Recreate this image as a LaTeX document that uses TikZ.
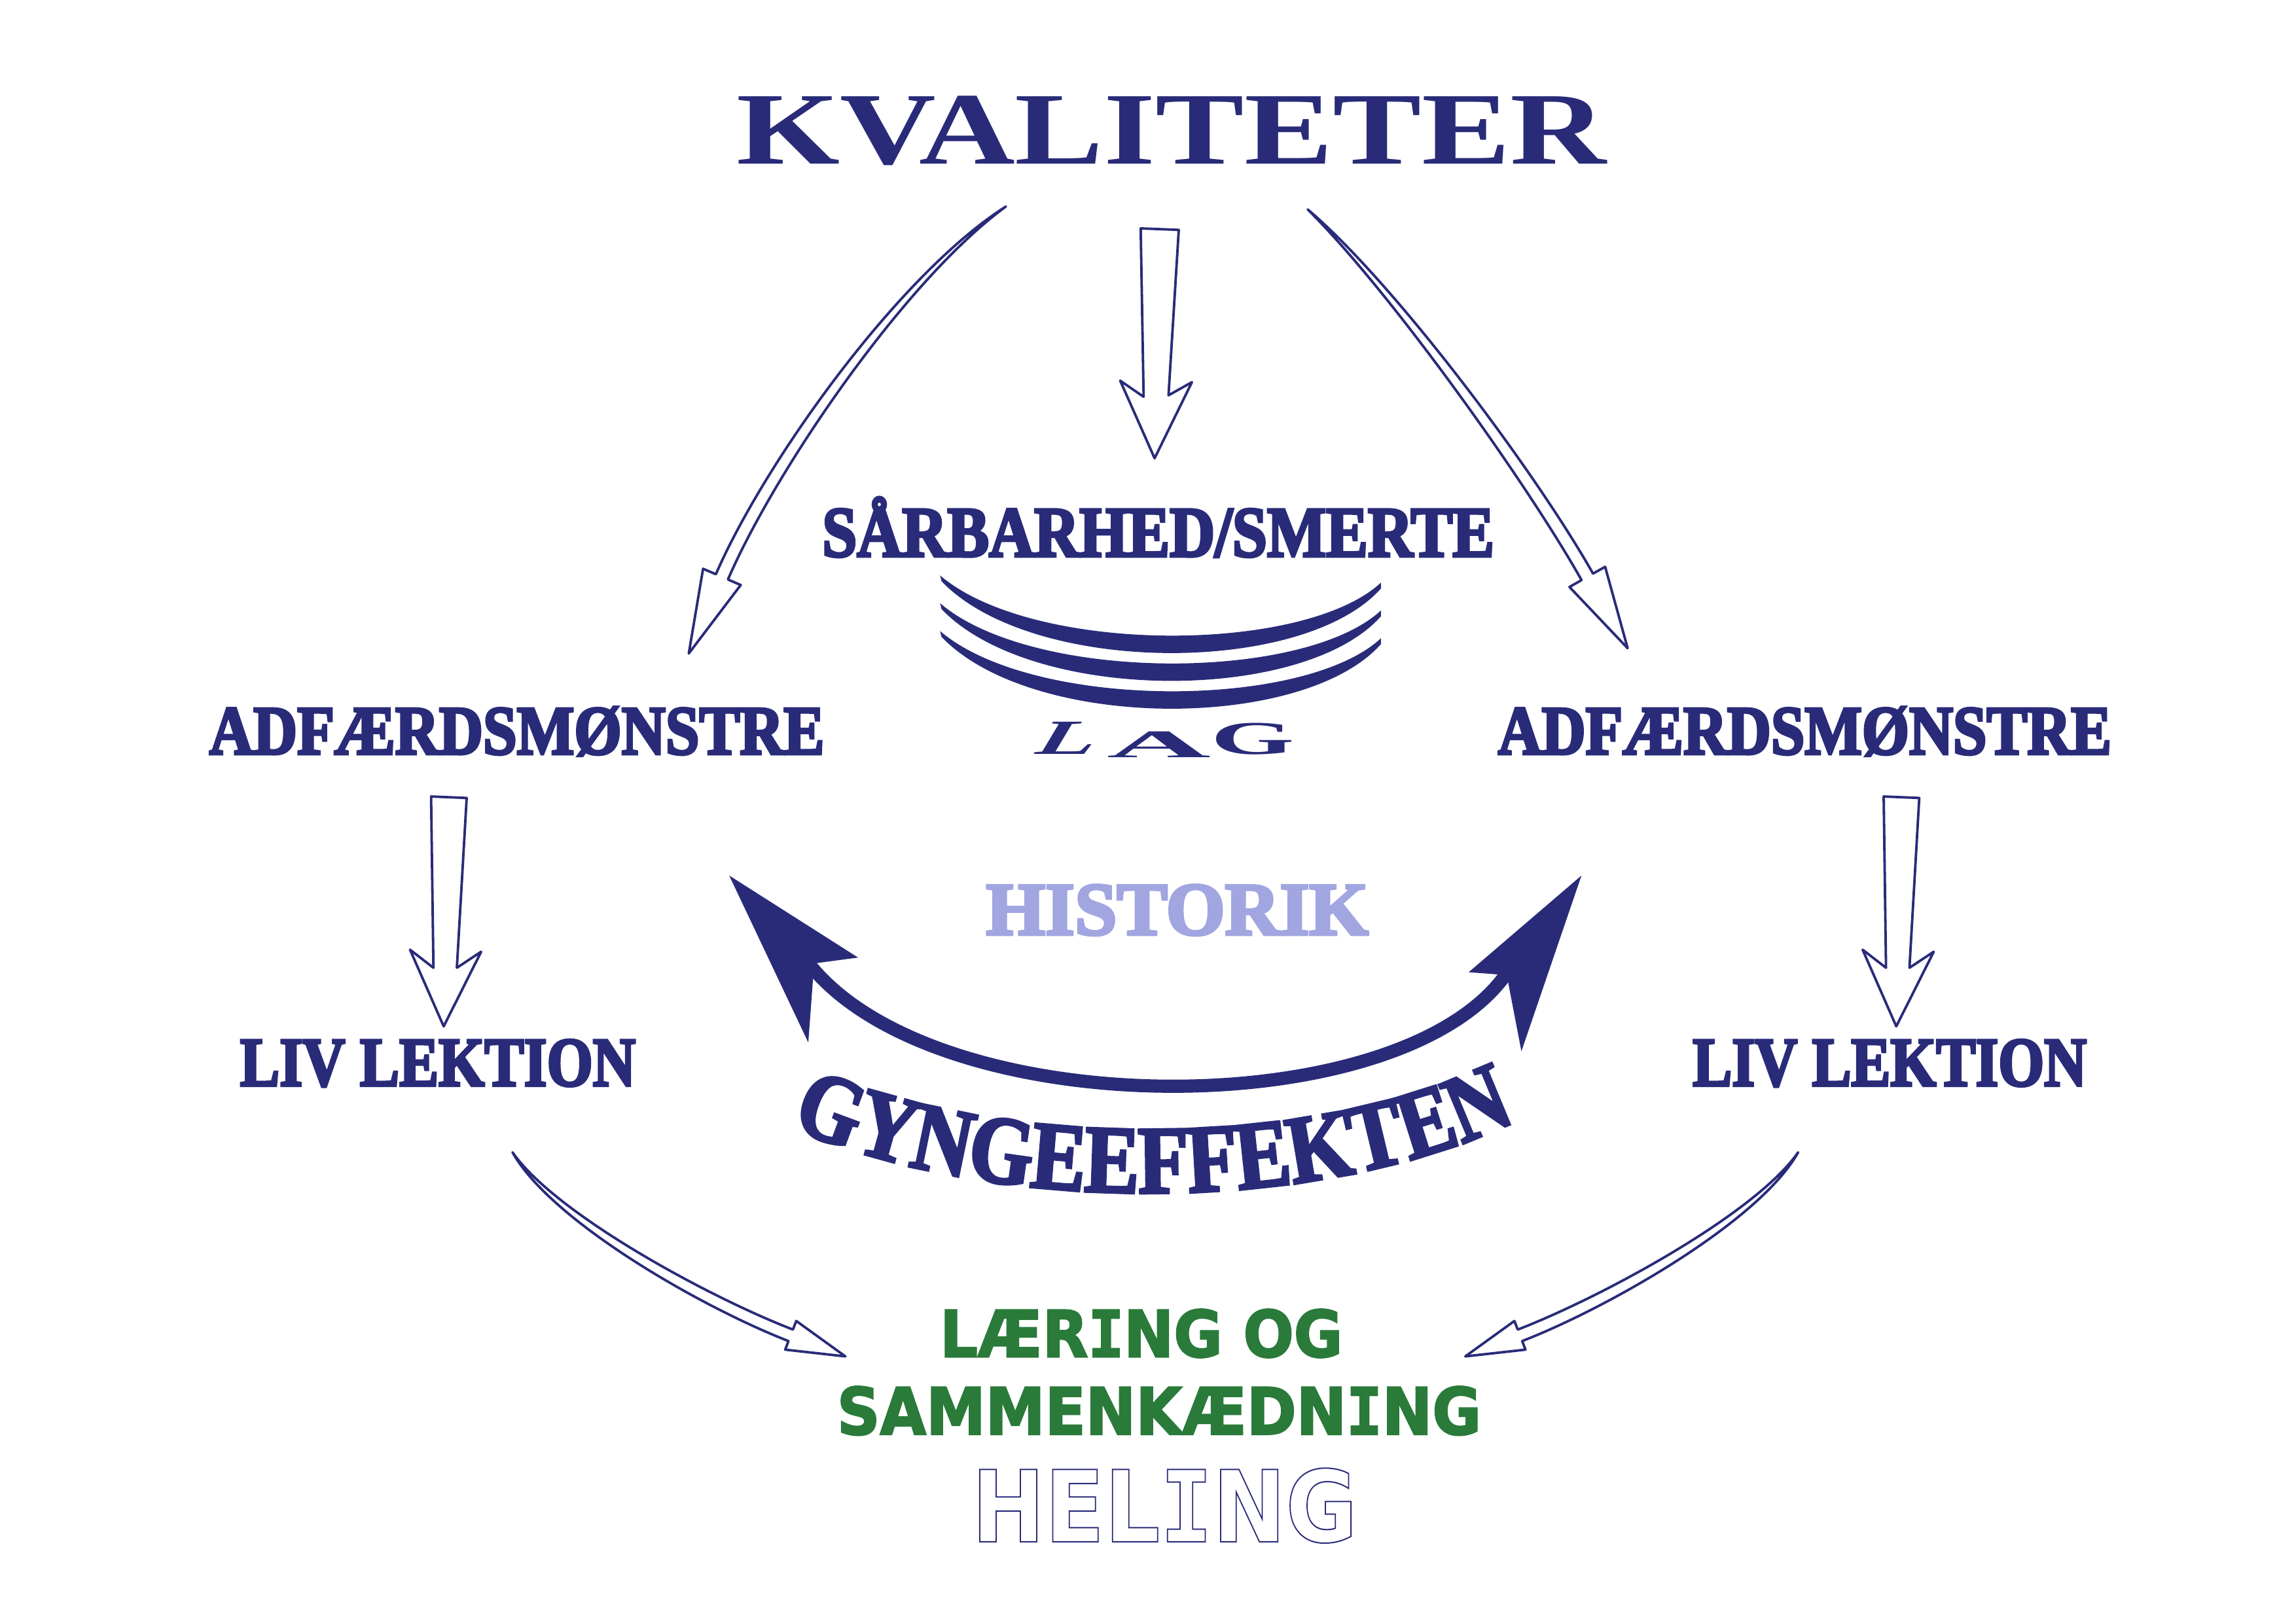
\documentclass[tikz,border=0pt]{standalone}
\usepackage{fontspec}
\usepackage{graphicx}
\usetikzlibrary{calc,decorations.text}
\newfontfamily\serifr{Liberation Serif}
\newfontfamily\serifh{Liberation Serif}[BoldFeatures={FakeBold=4}]
\newfontfamily\gyng{Liberation Serif}[FakeStretch=0.85, BoldFeatures={FakeBold=3}]
\newfontfamily\sansb{DejaVu Sans}
\newfontfamily\sansh{DejaVu Sans}[BoldFeatures={FakeBold=2.5}]
\newfontfamily\monob{DejaVu Sans Mono}
\newfontfamily\monoh{DejaVu Sans Mono}[BoldFeatures={FakeBold=2.5}]
\newcommand\gI{{\monoh\bfseries I}}
\newcommand\hI{{\monob\bfseries I}}
\definecolor{navy}{RGB}{41,43,121}
\definecolor{grn}{RGB}{42,122,58}
\definecolor{lav}{RGB}{161,165,224}
\newcommand\fitbox[3]{\resizebox{#1pt}{#2pt}{\vphantom{X}\smash{#3}}}
\tikzset{
  hollow/.style={draw=navy, line width=1.7pt, fill=white, line join=round},
  txt/.style={inner sep=0pt, outer sep=0pt, anchor=base, text=navy},
  sbold/.style={font=\serifh\bfseries\fontsize{#1}{#1}\selectfont},
  gbold/.style={font=\sansh\bfseries\fontsize{#1}{#1}\selectfont},
  lagfont/.style={inner sep=0pt, anchor=base west, text=navy, font=\serifr\bfseries\fontsize{30}{30}\selectfont},
}
% curved tapered hollow arrow: P0 tail, P1,P2 controls, P3 head base, w1, w2, head half width, head length
\newcommand\hollowcurve[8]{%
  \coordinate (a0) at (#1); \coordinate (a1) at (#2);
  \coordinate (a2) at (#3); \coordinate (a3) at (#4);
  \coordinate (c1l) at ($(a1)!#5pt!90:(a2)$);
  \coordinate (c1r) at ($(a1)!#5pt!-90:(a2)$);
  \coordinate (c2l) at ($(a2)!#6pt!-90:(a1)$);
  \coordinate (c2r) at ($(a2)!#6pt!90:(a1)$);
  \coordinate (bl) at ($(a3)!#6pt!-90:(a2)$);
  \coordinate (br) at ($(a3)!#6pt!90:(a2)$);
  \coordinate (hl) at ($(a3)!#7pt!-90:(a2)$);
  \coordinate (hr) at ($(a3)!#7pt!90:(a2)$);
  \coordinate (tp) at ($(a3)!-#8pt!(a2)$);
  \draw[hollow] (a0) .. controls (c1l) and (c2l) .. (bl) -- (hl) -- (tp) -- (hr) -- (br) .. controls (c2r) and (c1r) .. (a0) -- cycle;
}
\begin{document}
\begin{tikzpicture}[x=1pt,y=-1pt]
\useasboundingbox[fill=white] (0,0) rectangle (1568,1108.5);

% ---- HELING (outline) first, before any emboldened font
\node[txt, font=\sansb\bfseries\fontsize{68}{68}\selectfont] (heling) at (795.3,1053)
  {\special{pdf:literal direct 1 Tr 0.9 w}\fitbox{263.4}{49.4}{HEL\hI{}NG}\special{pdf:literal direct 0 Tr}};

% ---- texts
\node[txt, font=\serifr\bfseries\fontsize{70}{70}\selectfont] (kval) at (800,112) {\fitbox{594}{46}{KVALITETER}};
\node[txt, sbold=48] (saar) at (791,380) {\fitbox{459}{32}{SÅRBARHED/SMERTE}};
\node[txt, sbold=47] (adfl) at (353,515) {\fitbox{420}{31}{ADFÆRDSMØNSTRE}};
\node[txt, sbold=47] (adfr) at (1232.5,515) {\fitbox{419}{31}{ADFÆRDSMØNSTRE}};
\node[txt, sbold=47] (livl) at (299,741.5) {\fitbox{270}{31}{LIV LEKTION}};
\node[txt, sbold=47] (livr) at (1290.5,741.5) {\fitbox{269}{31}{LIV LEKTION}};
\node[txt, sbold=50, text=lav] (hist) at (804,638.3) {\fitbox{261}{33.5}{HISTORIK}};
\node[txt, gbold=44, text=grn] (laer) at (779.4,926.7) {\fitbox{275}{32}{LÆR\gI{}NG OG}};
\node[txt, gbold=44, text=grn] (samm) at (791.6,979.7) {\fitbox{440}{32.3}{SAMMENKÆDN\gI{}NG}};

% ---- LAG
\node[lagfont, xslant=0.6] (lagL) at (705,515) {\fitbox{39}{22}{L}};
\node[lagfont] (lagA) at (756,517.3) {\fitbox{71}{17.5}{A}};
\node[lagfont] (lagG) at (827,515) {\fitbox{57}{21}{G}};

% ---- layered arcs
\foreach \dy in {0,19,38}{
  \fill[navy, shift={(0,\dy)}] (642,393) .. controls (705,447) and (890,447) .. (943,398)
     -- (943,402) .. controls (890,461.5) and (705,461.5) .. (643,397) -- cycle;
}

% ---- curved hollow arrows
\hollowcurve{687,141}{615,190}{525,320}{493,394}{3}{4.5}{14}{57}
\hollowcurve{893,143}{950,195}{1045,325}{1084,394}{3}{4.5}{14}{56}
\hollowcurve{350,787}{378,832}{483,890}{540,912}{3}{4.2}{10.5}{40}
\hollowcurve{1228,787}{1200,832}{1095,890}{1038,912}{3}{4.2}{10.5}{40}

% ---- straight hollow arrows
\draw[hollow] (779,156) -- (805,157) -- (798,270) -- (814,261) -- (788.5,313) -- (765,260) -- (781,271) -- cycle;
\draw[hollow] (294.4,544) -- (318.7,545) -- (312,661) -- (328.6,650) -- (303,701) -- (280,648.6) -- (296,661) -- cycle;
\draw[hollow] (1286.4,544) -- (1310.7,545) -- (1304,661) -- (1320.6,650) -- (1295,701) -- (1272,648.6) -- (1288,661) -- cycle;

% ---- swing arrow
\coordinate (swl) at (550,655);
\coordinate (swr) at (1032,660);
\draw[navy, line width=9pt] (swl) .. controls (635,770) and (965,770) .. (swr);
\fill[navy] (498,598) -- (586,654) -- (556,658) -- (552,712) -- cycle;
\fill[navy] (1080,598) -- (1039,718) -- (1029,666) -- (1003,664) -- cycle;

% ---- GYNGEEFFEKTEN
\coordinate (gl) at (540,770);
\coordinate (gr) at (1030,768);
\path[decorate, decoration={text along path, text align={fit to path},
   text={|\gyng\bfseries\fontsize{66}{66}\selectfont\color{navy}|GYNGEEFFEKTEN}}]
   (gl) .. controls (680,830) and (895,830) .. (gr);
\end{tikzpicture}
\end{document}
